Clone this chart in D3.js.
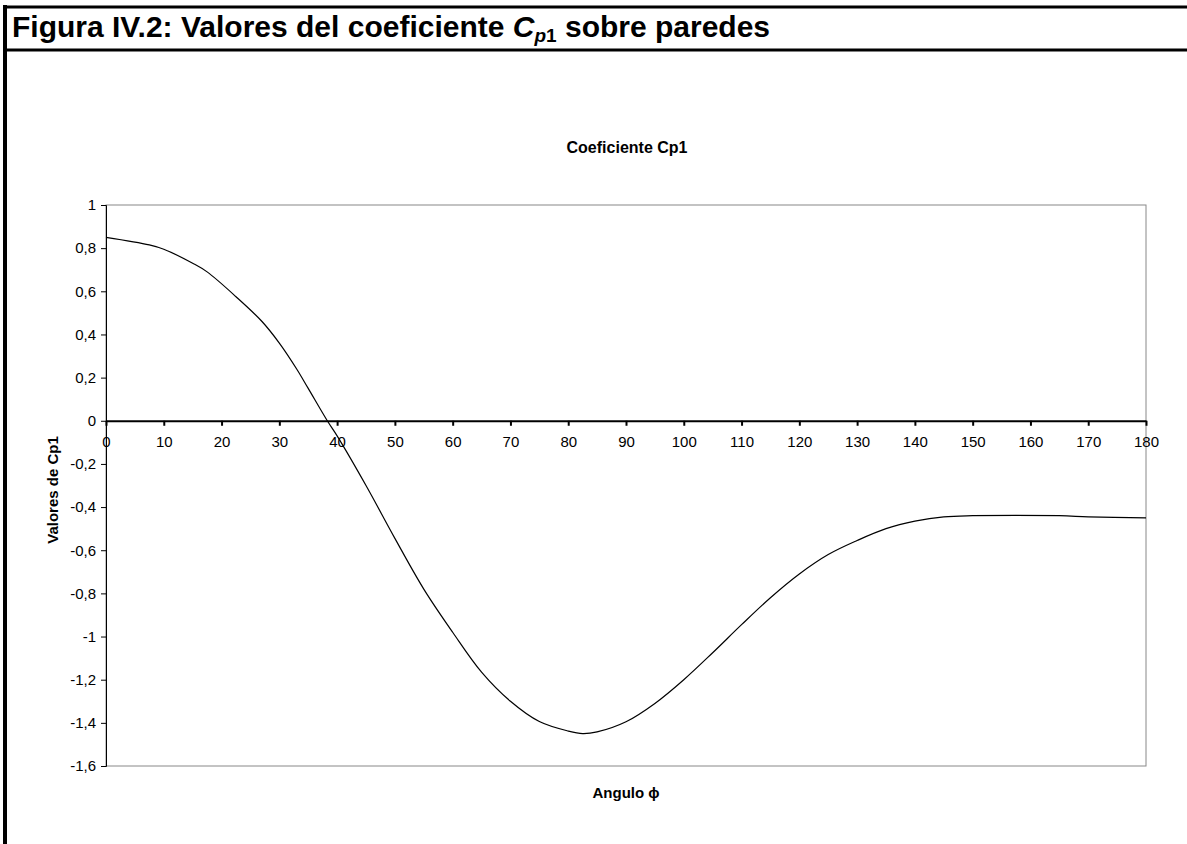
<!DOCTYPE html>
<html>
<head>
<meta charset="utf-8">
<script src="https://cdn.jsdelivr.net/npm/d3@7"></script>
<style>
  body { margin: 0; background: #fff; }
  svg { display: block; font-family: Arial, "Liberation Sans", sans-serif; }
</style>
</head>
<body>
<div id="chart"></div>
<script>
// Data
var angles = [0, 7.5, 10, 15, 17.5, 22.5, 27, 30, 33, 35, 38.3, 40, 45, 50, 55, 60, 65, 70, 75, 80, 82.5, 85, 90, 95, 100, 105, 110, 115, 120, 125, 130, 135, 140, 145, 150, 165, 170, 180];
var cp1 = [0.85, 0.815, 0.795, 0.73, 0.69, 0.575, 0.46, 0.36, 0.24, 0.15, 0.0, -0.07, -0.30, -0.545, -0.78, -0.98, -1.165, -1.30, -1.394, -1.438, -1.45, -1.442, -1.395, -1.31, -1.20, -1.075, -0.945, -0.82, -0.71, -0.62, -0.555, -0.50, -0.465, -0.445, -0.44, -0.44, -0.445, -0.45];
var xTicks = d3.range(0, 181, 10);
var yTicks = [1, 0.8, 0.6, 0.4, 0.2, 0, -0.2, -0.4, -0.6, -0.8, -1, -1.2, -1.4, -1.6];

var W = 1187, H = 844;
var plot = {left: 106, right: 1146, top: 205, bottom: 766};
var fontStack = "Arial, 'Liberation Sans', sans-serif";

var svg = d3.select("#chart").append("svg")
    .attr("width", W)
    .attr("height", H);

// Frame
svg.append("line").attr("x1", 5).attr("x2", 5).attr("y1", 5).attr("y2", H)
    .attr("stroke", "#000").attr("stroke-width", 4);
svg.append("line").attr("x1", 3).attr("x2", W).attr("y1", 7).attr("y2", 7)
    .attr("stroke", "#000").attr("stroke-width", 3);
svg.append("line").attr("x1", 3).attr("x2", W).attr("y1", 50).attr("y2", 50)
    .attr("stroke", "#000").attr("stroke-width", 3);

// Figure title with C_p1
var title = svg.append("text")
    .attr("x", 12).attr("y", 37)
    .style("font-size", "30px").style("font-weight", "bold");
title.append("tspan").text("Figura IV.2: Valores del coeficiente ");
title.append("tspan").style("font-style", "italic").text("C");
title.append("tspan").style("font-style", "italic").style("font-size", "19px")
    .attr("dy", 5).text("p");
title.append("tspan").style("font-size", "19px").text("1");
title.append("tspan").attr("dy", -5).text(" sobre paredes");

// Scales
var x = d3.scaleLinear().domain([0, 180]).range([plot.left, plot.right]);
var y = d3.scaleLinear().domain([-1.6, 1]).range([plot.bottom, plot.top]);

// Plot area border (grey)
svg.append("rect")
    .attr("x", plot.left).attr("y", plot.top)
    .attr("width", plot.right - plot.left).attr("height", plot.bottom - plot.top)
    .attr("fill", "none").attr("stroke", "#888").attr("stroke-width", 1);

// Y axis
var yAxis = svg.append("g")
    .attr("transform", "translate(" + plot.left + ",0)")
    .call(d3.axisLeft(y).tickValues(yTicks).tickSize(5).tickPadding(5)
        .tickFormat(function(d) { return String(+d.toFixed(1)).replace(".", ","); }));
yAxis.select(".domain").attr("stroke", "#000");
yAxis.selectAll("text").style("font-size", "15px").style("font-family", fontStack).attr("fill", "#000");

// X axis on the zero line
var xAxis = svg.append("g")
    .attr("transform", "translate(0," + y(0) + ")")
    .call(d3.axisBottom(x).tickValues(xTicks).tickSize(5).tickPadding(11).tickSizeOuter(0));
xAxis.select(".domain").attr("stroke", "#000").attr("stroke-width", 2);
xAxis.selectAll(".tick line").attr("stroke-width", 2);
xAxis.selectAll("text").style("font-size", "15px").style("font-family", fontStack).attr("fill", "#000");

// Curve
var data = angles.map(function(a, i) { return {a: a, v: cp1[i]}; });
var line = d3.line()
    .x(function(d) { return x(d.a); })
    .y(function(d) { return y(d.v); })
    .curve(d3.curveCatmullRom.alpha(0.5));
svg.append("path")
    .datum(data)
    .attr("d", line)
    .attr("fill", "none")
    .attr("stroke", "#000")
    .attr("stroke-width", 1.2);

// Chart title and axis titles
svg.append("text")
    .attr("x", (plot.left + plot.right) / 2 + 1).attr("y", 153)
    .attr("text-anchor", "middle")
    .style("font-size", "16px").style("font-weight", "bold")
    .text("Coeficiente Cp1");

svg.append("text")
    .attr("transform", "translate(58,490) rotate(-90)")
    .attr("text-anchor", "middle")
    .style("font-size", "15px").style("font-weight", "bold")
    .text("Valores de Cp1");

svg.append("text")
    .attr("x", 626).attr("y", 798)
    .attr("text-anchor", "middle")
    .style("font-size", "15px").style("font-weight", "bold")
    .text("Angulo \u03d5");
</script>
</body>
</html>
